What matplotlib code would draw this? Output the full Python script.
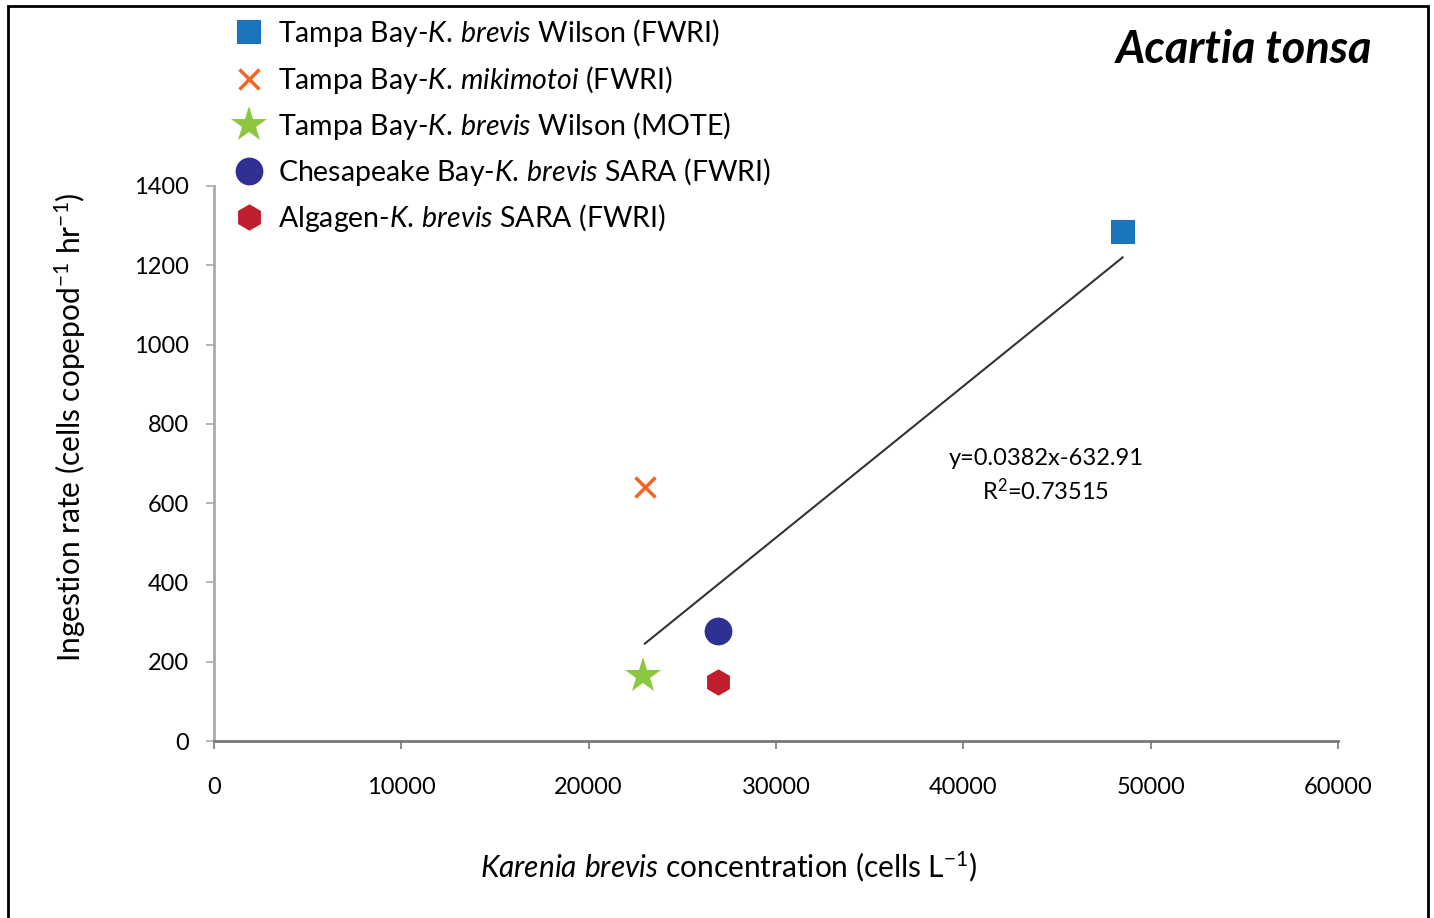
import matplotlib
matplotlib.use('Agg')
import matplotlib.pyplot as plt
from matplotlib.patches import Rectangle

plt.rcParams['font.family'] = ['Lato', 'DejaVu Sans']
plt.rcParams['mathtext.fontset'] = 'custom'
plt.rcParams['mathtext.it'] = 'Lato:italic'
plt.rcParams['mathtext.rm'] = 'Lato'

# data
series_labels = [
    'Tampa Bay-$\\mathit{K.\\,brevis}$ Wilson (FWRI)',
    'Tampa Bay-$\\mathit{K.\\,mikimotoi}$ (FWRI)',
    'Tampa Bay-$\\mathit{K.\\,brevis}$ Wilson (MOTE)',
    'Chesapeake Bay-$\\mathit{K.\\,brevis}$ SARA (FWRI)',
    'Algagen-$\\mathit{K.\\,brevis}$ SARA (FWRI)',
]
conc = [48500, 23000, 22900, 26900, 26900]
ingestion = [1285, 641, 164, 277, 149]

fit_slope = 0.0382
fit_icept = -632.91
fit_x = [23000, 48500]

markers = ['s', 'x', '*', 'o', 'h']
colors = ['#1c75bc', '#f26522', '#8dc63f', '#2e3192', '#be1e2d']
msizes = [17, 14, 27, 20, 19]

fig = plt.figure(figsize=(14.34, 9.18), dpi=100)
ax = fig.add_axes([214/1434, 1-741/918, (1338-214)/1434, (741-186)/918])

handles = []
for i in range(len(conc)):
    if markers[i] == 'x':
        h, = ax.plot(conc[i], ingestion[i], linestyle='none', marker='x', color=colors[i],
                     markersize=msizes[i], markeredgewidth=2.5)
    else:
        h, = ax.plot(conc[i], ingestion[i], linestyle='none', marker=markers[i], color=colors[i],
                     markersize=msizes[i], markeredgewidth=0)
    handles.append(h)

fit_y = [fit_slope*x + fit_icept for x in fit_x]
ax.plot(fit_x, fit_y, color='#333333', linewidth=1.5)

ax.text(44400, 712, 'y=0.0382x-632.91', ha='center', va='center', fontsize=17)
ax.text(44400, 632, 'R$^2$=0.73515', ha='center', va='center', fontsize=17)

ax.set_xlim(0, 60000)
ax.set_ylim(0, 1400)
ax.set_xticks(range(0, 60001, 10000))
ax.set_yticks(range(0, 1401, 200))
ax.spines['top'].set_visible(False)
ax.spines['right'].set_visible(False)
ax.spines['left'].set_color('#aaaaaa')
ax.spines['bottom'].set_color('#777777')
ax.spines['left'].set_linewidth(2)
ax.spines['bottom'].set_linewidth(2)
ax.tick_params(axis='x', length=6, width=1.2, color='#777777', pad=20, labelsize=17)
ax.tick_params(axis='y', length=6, width=1.2, color='#aaaaaa', pad=12, labelsize=17)

fig.text(70/1434, 1-427/918, 'Ingestion rate (cells copepod$^{-1}$ hr$^{-1}$)',
         rotation=90, ha='center', va='center', fontsize=21.5)
fig.text(729/1434, 1-867/918, '$\\mathit{Karenia\\ brevis}$ concentration (cells L$^{-1}$)',
         ha='center', va='center', fontsize=21.5)
fig.text(1372/1434, 1-50/918, 'Acartia tonsa', ha='right', va='center', fontsize=32.5,
         fontweight='bold', fontstyle='italic')

fig.legend(handles=handles, labels=series_labels, loc='upper left',
           bbox_to_anchor=(222/1434, 1-6/918), frameon=False, fontsize=20.5,
           handlelength=1.1, handletextpad=0.45, labelspacing=0.5, borderaxespad=0)

fig.patches.append(Rectangle((8/1434, -0.05), (1428-8)/1434, 1-6/918+0.05,
                             transform=fig.transFigure, fill=False, edgecolor='black',
                             linewidth=2))

plt.savefig('out.png', dpi=100)
